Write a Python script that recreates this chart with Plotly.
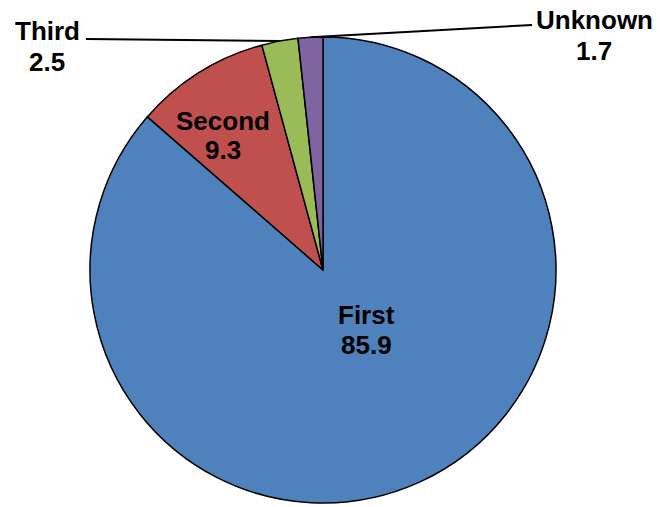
import math
import plotly.graph_objects as go

labels = ["First", "Second", "Third", "Unknown"]
values = [85.9, 9.3, 2.5, 1.7]
colors = ["#4F81BD", "#C0504D", "#9BBB59", "#8064A2"]

W, H = 660, 507
cx, cy, R = 323, 270, 233  # pie centre / radius in px

fig = go.Figure(go.Pie(
    labels=labels, values=values, sort=False, direction="clockwise", rotation=0,
    marker=dict(colors=colors, line=dict(color="black", width=1.5)),
    textinfo="none", hoverinfo="label+value", showlegend=False,
    domain=dict(x=[(cx - R) / W, (cx + R) / W], y=[1 - (cy + R) / H, 1 - (cy - R) / H]),
))

total = sum(values)
def edge_point(i, rf=1.0):
    start = sum(values[:i])
    mid = (start + values[i] / 2) / total * 2 * math.pi
    return cx + rf * R * math.sin(mid), cy - rf * R * math.cos(mid)

font = dict(family="Arial, Liberation Sans, sans-serif", size=26, color="black")
def px(x, y):
    return x / W, 1 - y / H

# (x centre, y centre of name line, y centre of value line) in px
label_pos = {
    "First": (366, 315, 345),
    "Second": (223, 121, 150),
    "Third": (47, 31, 62),
    "Unknown": (594, 20, 51),
}
annotations = []
for i, lab in enumerate(labels):
    x, y1, y2 = label_pos[lab]
    for txt, yy in ((lab, y1), (str(values[i]), y2)):
        ax, ay = px(x, yy)
        annotations.append(dict(x=ax, y=ay, xref="paper", yref="paper", showarrow=False,
                                text=f"<b>{txt}</b>", font=font,
                                xanchor="center", yanchor="middle"))

shapes = []
leader_start = {"Third": (86, 39), "Unknown": (532, 25)}
for i, lab in enumerate(labels):
    if lab in leader_start:
        sx, sy = leader_start[lab]
        ex, ey = edge_point(i)
        x0, y0 = px(sx, sy)
        x1, y1 = px(ex, ey)
        shapes.append(dict(type="line", xref="paper", yref="paper", x0=x0, y0=y0, x1=x1, y1=y1,
                           line=dict(color="black", width=2)))

fig.update_layout(width=W, height=H, margin=dict(l=0, r=0, t=0, b=0),
                  paper_bgcolor="white", plot_bgcolor="white",
                  annotations=annotations, shapes=shapes)
fig.write_html("out.html", config={"displayModeBar": False},
               post_script="document.body.style.margin='0';document.body.style.overflow='hidden';")
